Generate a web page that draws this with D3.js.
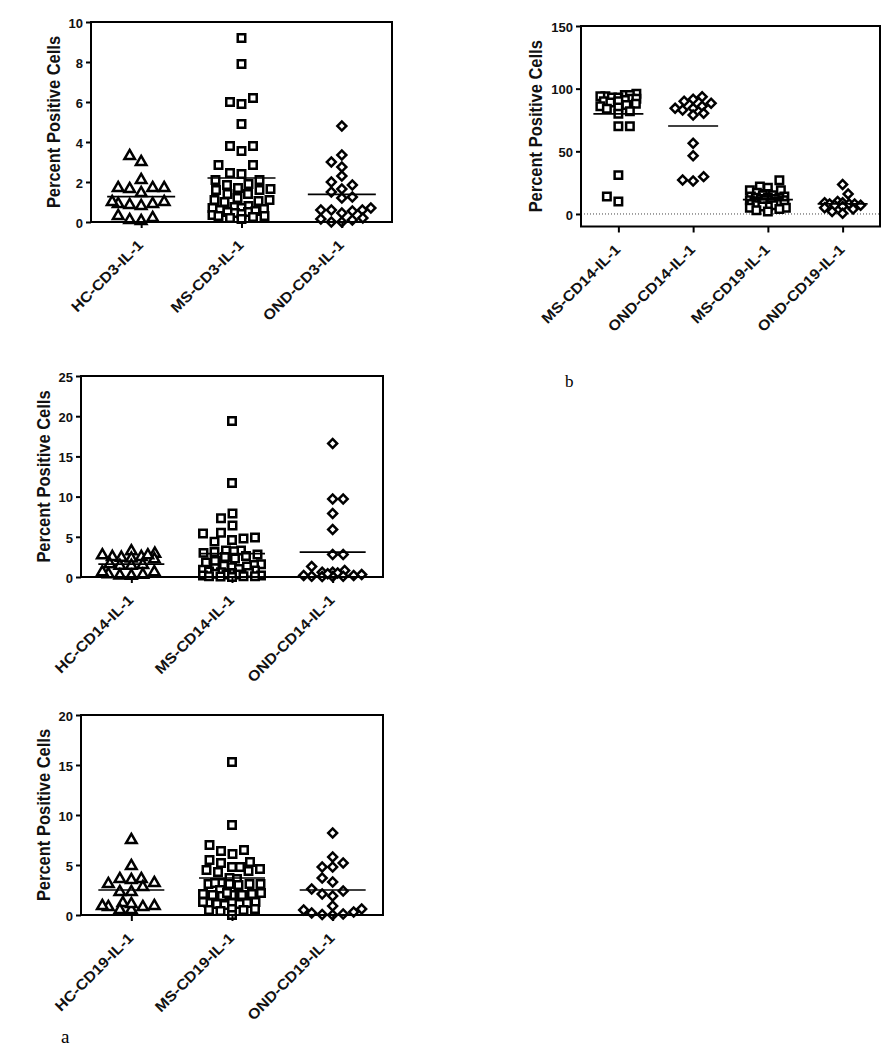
<!DOCTYPE html>
<html>
<head>
<meta charset="utf-8">
<script src="https://cdn.jsdelivr.net/npm/d3@7"></script>
<style>
  html, body { margin: 0; padding: 0; background: #ffffff; }
  svg { display: block; }
</style>
</head>
<body>
<svg id="chart" width="890" height="1050"></svg>
<script>
// ---------------- DATA ----------------
// Panel a, top: CD3
const catsCD3 = ["HC-CD3-IL-1", "MS-CD3-IL-1", "OND-CD3-IL-1"];
const ticksCD3 = [0, 2, 4, 6, 8, 10];
const hcCD3 = [3.3, 3.0, 2.1, 1.7, 1.7, 1.65, 1.7, 1.45, 1.0, 0.9, 0.85, 0.8, 0.9, 1.0, 0.2, 0.05, 0.1, 0.3];
const msCD3 = [9.2, 7.9, 6.0, 5.9, 6.2, 4.9, 3.8, 3.55, 3.8, 2.85, 2.85, 2.45, 2.4, 2.1, 2.1, 1.9, 1.85,
               1.7, 1.6, 1.6, 1.65, 1.4, 1.4, 1.2, 1.1, 1.1, 1.05, 1.0, 0.8, 0.75, 0.7, 0.7, 0.65, 0.6, 0.55,
               0.5, 0.5, 0.45, 0.4, 0.35, 0.3, 0.3, 0.25, 0.2, 0.15];
const ondCD3 = [4.8, 3.35, 3.0, 2.75, 2.3, 2.0, 1.85, 1.65, 1.5, 1.25, 1.2, 0.7, 0.6, 0.6, 0.6, 0.55, 0.45,
                0.2, 0.1, 0.0, 0.0, 0.15];
const meansCD3 = [1.27, 2.2, 1.38];

// Panel b
const catsB = ["MS-CD14-IL-1", "OND-CD14-IL-1", "MS-CD19-IL-1", "OND-CD19-IL-1"];
const ticksB = [0, 50, 100, 150];
const msCD14b = [96, 95, 95, 94, 94, 93, 93, 92, 92, 91, 90, 90, 89, 88, 87, 86, 85, 84, 82, 80, 70, 70, 31, 14, 10];
const ondCD14b = [93.6, 91.5, 90, 88.3, 86, 84.3, 84.3, 83, 80.3, 79, 56.4, 46.5, 29.8, 27.1, 26.3];
const msCD19b = [27, 22, 21, 19, 19, 17, 16, 15, 15, 14, 14, 13, 13, 13, 12, 12, 12, 11, 11, 11, 11,
                 10, 10, 10, 10, 9, 9, 9, 8, 8, 8, 7, 7, 6, 6, 5, 5, 4, 3, 2];
const ondCD19b = [23.5, 16, 10, 9, 9, 8, 8, 8, 7, 7, 6, 5, 4, 2, 0.5];
const meansB = [79.8, 70.2, 11.4, 8.0];

// Panel a, middle: CD14
const catsCD14 = ["HC-CD14-IL-1", "MS-CD14-IL-1", "OND-CD14-IL-1"];
const ticksCD14 = [0, 5, 10, 15, 20, 25];
const hcCD14 = [3.2, 2.9, 2.7, 2.5, 2.3, 2.2, 2.4, 2.5, 2.7, 1.4, 1.5, 1.4, 1.6, 0.6, 0.3, 0.15, 0.2, 0.35, 0.6];
const msCD14 = [19.4, 11.7, 7.9, 7.3, 6.4, 5.5, 5.4, 4.9, 4.8, 4.6, 4.4, 3.3, 3.3, 3.2, 3.1, 3.0, 2.8, 2.6,
                2.5, 2.3, 2.0, 1.8, 1.6, 1.5, 1.4, 1.3, 1.2, 1.1, 1.0, 0.9, 0.8, 0.7, 0.6, 0.5, 0.5, 0.4,
                0.3, 0.3, 0.2, 0.2, 0.1, 0.1, 0.1, 0.05, 0.0];
const ondCD14 = [16.6, 9.7, 9.7, 7.9, 5.9, 2.8, 2.8, 1.3, 0.8, 0.6, 0.6, 0.5, 0.2, 0.1, 0.05, 0.05, 0.1, 0.2, 0.3, 0.4];
const meansCD14 = [1.6, 2.9, 3.1];

// Panel a, bottom: CD19
const catsCD19 = ["HC-CD19-IL-1", "MS-CD19-IL-1", "OND-CD19-IL-1"];
const ticksCD19 = [0, 5, 10, 15, 20];
const hcCD19 = [7.5, 4.9, 3.5, 3.1, 3.6, 3.6, 2.8, 3.2, 2.3, 2.3, 1.2, 0.9, 0.8, 0.5, 0.5, 0.8, 0.9, 1.1];
const msCD19 = [15.3, 9.0, 7.0, 6.5, 6.4, 6.1, 5.5, 5.3, 5.2, 4.8, 4.8, 4.6, 4.4, 4.3, 4.5, 3.7, 3.6,
                3.2, 3.1, 3.1, 3.0, 3.1, 3.2, 3.1, 2.5, 2.2, 2.1, 2.0, 1.9, 2.0, 2.1, 2.2, 2.0,
                1.3, 1.2, 1.1, 1.0, 1.1, 1.2, 1.3, 1.2, 0.6, 0.5, 0.4, 0.5, 0.6, 0.0];
const ondCD19 = [8.2, 5.8, 5.2, 4.8, 4.8, 3.7, 3.3, 2.6, 2.4, 2.1, 1.9, 0.6, 0.3, 0.1, 0.0, 0.05, 0.2, 0.5, 0.9];
const meansCD19 = [2.5, 3.7, 2.5];

const yTitle = "Percent Positive Cells";

// ---------------- LAYOUT / STYLE ----------------
const FONT = "'Liberation Sans', Arial, Helvetica, sans-serif";
const panels = [
  { cats: catsCD3, groups: [hcCD3, msCD3, ondCD3], shapes: ["tri", "sq", "dia"], means: meansCD3,
    ticks: ticksCD3, domain: [0, 10], left: 91, right: 392, top: 22, bottom: 222,
    meanHalf: 34, maxHalf: 29, titleOff: 38, zeroLine: false },
  { cats: catsB, groups: [msCD14b, ondCD14b, msCD19b, ondCD19b], shapes: ["sq", "dia", "sq", "dia"], means: meansB,
    ticks: ticksB, domain: [-10, 150], left: 581, right: 880, top: 26, bottom: 226.5,
    meanHalf: 25, maxHalf: 18, titleOff: 46, zeroLine: true },
  { cats: catsCD14, groups: [hcCD14, msCD14, ondCD14], shapes: ["tri", "sq", "dia"], means: meansCD14,
    ticks: ticksCD14, domain: [0, 25], left: 81, right: 383, top: 376, bottom: 577,
    meanHalf: 33, maxHalf: 29, titleOff: 38, zeroLine: false },
  { cats: catsCD19, groups: [hcCD19, msCD19, ondCD19], shapes: ["tri", "sq", "dia"], means: meansCD19,
    ticks: ticksCD19, domain: [0, 20], left: 81, right: 383, top: 715, bottom: 915,
    meanHalf: 33, maxHalf: 29, titleOff: 38, zeroLine: false }
];

const svg = d3.select("#chart");

const symPath = {
  tri: d3.symbol(d3.symbolTriangle, 48)(),
  sq: d3.symbol(d3.symbolSquare, 56)(),
  dia: d3.symbol(d3.symbolSquare, 40)()
};

// deterministic beeswarm: greedy placement closest to the category centre
function swarm(values, yScale, Dx, Dy, maxHalf) {
  const pts = values.map(v => ({ v, y: yScale(v), x: 0 }));
  const order = pts.slice().sort((a, b) => b.y - a.y || 0);
  const placed = [];
  let flip = 1;
  for (const p of order) {
    const near = placed.filter(q => Math.abs(q.y - p.y) < Dy);
    const cands = [0];
    near.forEach(q => { cands.push(q.x + Dx, q.x - Dx); });
    cands.sort((a, b) => Math.abs(a) - Math.abs(b) || (flip * (b - a)));
    let best = null;
    for (const c of cands) {
      if (Math.abs(c) > maxHalf + 0.01) continue;
      if (near.every(q => Math.abs(q.x - c) >= Dx - 1e-6)) { best = c; break; }
    }
    if (best === null) {
      let bestScore = -1;
      for (let c = -maxHalf; c <= maxHalf + 1e-9; c += 0.5) {
        let s = Infinity;
        near.forEach(q => {
          const d = Math.max(Math.abs(q.x - c) / Dx, Math.abs(q.y - p.y) / Dy);
          if (d < s) s = d;
        });
        if (s > bestScore + 1e-9 || (Math.abs(s - bestScore) < 1e-9 && Math.abs(c) < Math.abs(best))) {
          bestScore = s; best = c;
        }
      }
    }
    flip = -flip;
    p.x = best;
    placed.push(p);
  }
  return pts;
}

panels.forEach(P => {
  const g = svg.append("g");
  const y = d3.scaleLinear().domain(P.domain).range([P.bottom, P.top]);
  const x = d3.scalePoint().domain(P.cats).range([P.left, P.right]).padding(0.5);

  // zero dotted line
  if (P.zeroLine) {
    g.append("line")
      .attr("x1", P.left).attr("x2", P.right)
      .attr("y1", y(0)).attr("y2", y(0))
      .attr("stroke", "#444").attr("stroke-width", 1)
      .attr("stroke-dasharray", "1,2");
  }

  // points
  P.groups.forEach((vals, i) => {
    const shape = P.shapes[i];
    const Dx = shape === "dia" ? 10.5 : 11.5;
    const Dy = shape === "dia" ? 8.5 : 9.5;
    const pts = swarm(vals, y, Dx, Dy, P.maxHalf);
    const cx = x(P.cats[i]);
    g.append("g").selectAll("path")
      .data(pts)
      .join("path")
      .attr("d", symPath[shape])
      .attr("transform", d => `translate(${cx + d.x},${d.y})` + (shape === "dia" ? " rotate(45)" : ""))
      .attr("fill", "#fff")
      .attr("stroke", "#000")
      .attr("stroke-width", 2.5)
      .attr("stroke-linejoin", "miter");
  });

  // mean lines
  g.append("g").selectAll("line")
    .data(P.means)
    .join("line")
    .attr("x1", (m, i) => x(P.cats[i]) - P.meanHalf)
    .attr("x2", (m, i) => x(P.cats[i]) + P.meanHalf)
    .attr("y1", m => y(m)).attr("y2", m => y(m))
    .attr("stroke", "#000").attr("stroke-width", 1.7);

  // frame
  g.append("rect")
    .attr("x", P.left).attr("y", P.top)
    .attr("width", P.right - P.left).attr("height", P.bottom - P.top)
    .attr("fill", "none").attr("stroke", "#000").attr("stroke-width", 2);

  // y axis
  const ya = g.append("g")
    .attr("transform", `translate(${P.left},0)`)
    .call(d3.axisLeft(y).tickValues(P.ticks).tickSize(5).tickPadding(3));
  ya.select(".domain").remove();
  ya.selectAll(".tick line").attr("stroke", "#000").attr("stroke-width", 2);
  ya.selectAll(".tick text")
    .attr("font-family", FONT).attr("font-weight", "bold").attr("font-size", 13)
    .attr("fill", "#111").attr("dy", "0.4em");

  // x axis (ticks only + rotated labels)
  const xa = g.append("g")
    .attr("transform", `translate(0,${P.bottom})`)
    .call(d3.axisBottom(x).tickSize(6).tickFormat(""));
  xa.select(".domain").remove();
  xa.selectAll(".tick line").attr("stroke", "#000").attr("stroke-width", 2);

  g.append("g").selectAll("text")
    .data(P.cats)
    .join("text")
    .attr("transform", d => `translate(${x(d) + 3},${P.bottom + 24}) rotate(-45) scale(1.15,1.05)`)
    .attr("text-anchor", "end")
    .attr("font-family", FONT).attr("font-weight", "bold").attr("font-size", 14)
    .attr("fill", "#111")
    .text(d => d);

  // y title
  g.append("text")
    .attr("transform", `translate(${P.left - P.titleOff},${(P.top + P.bottom) / 2}) rotate(-90) scale(1,1.12)`)
    .attr("text-anchor", "middle")
    .attr("dy", "0.36em")
    .attr("font-family", FONT).attr("font-weight", "bold").attr("font-size", 16.5)
    .attr("fill", "#111")
    .text(yTitle);
});

// panel letters
svg.append("text").attr("x", 565).attr("y", 387)
  .attr("font-family", "'Liberation Serif', 'Times New Roman', serif").attr("font-size", 17)
  .text("b");
svg.append("text").attr("x", 61).attr("y", 1043)
  .attr("font-family", "'Liberation Serif', 'Times New Roman', serif").attr("font-size", 19)
  .text("a");
</script>
</body>
</html>
